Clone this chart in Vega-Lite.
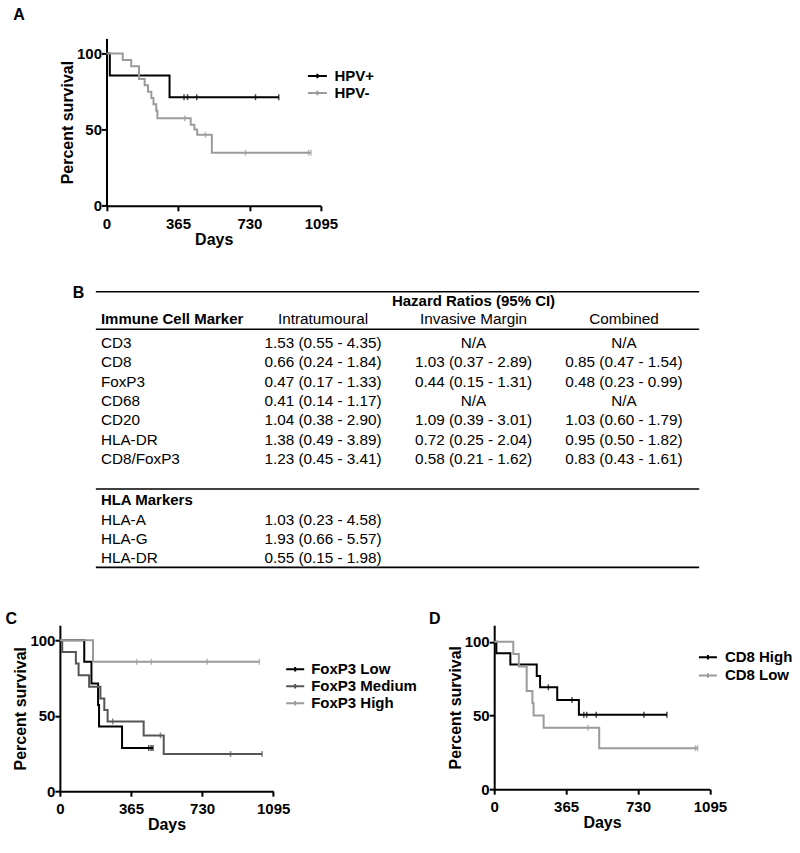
{
  "$schema": "https://vega.github.io/schema/vega-lite/v6.json",
  "padding": {"left": 4.9, "top": 6.4, "right": 5, "bottom": 5},
  "autosize": {"type": "pad"},
  "background": "white",
  "config": {
    "view": {"stroke": null},
    "font": "Liberation Sans",
    "axis": {"grid": false, "domainColor": "#000", "domainWidth": 2, "tickColor": "#000", "tickWidth": 2, "tickSize": 5, "labelFont": "Liberation Sans", "labelFontSize": 15, "labelFontWeight": "bold", "labelColor": "#000", "labelFlush": false, "labelOverlap": false, "format": "d", "titleFont": "Liberation Sans", "titleFontSize": 16, "titleFontWeight": "bold", "titleColor": "#000"},
    "axisX": {"labelPadding": 5.6, "titlePadding": 0},
    "axisY": {"labelPadding": 0, "titlePadding": 1},
    "legend": {"orient": "none", "symbolStrokeWidth": 2, "symbolSize": 225, "labelFont": "Liberation Sans", "labelFontSize": 15, "labelFontWeight": "bold", "labelColor": "#000", "padding": 0},
    "title": {"font": "Liberation Sans", "fontSize": 16, "fontWeight": "bold", "anchor": "start", "frame": "group", "offset": 0, "baseline": "alphabetic", "color": "#000"},
    "text": {"font": "Liberation Sans", "color": "#000"}
  },
  "datasets": {
    "kmA": [
      {"g": "HPV+", "t": 0, "s": 100}, {"g": "HPV+", "t": 17, "s": 85.7}, {"g": "HPV+", "t": 322, "s": 71.4}, {"g": "HPV+", "t": 880, "s": 71.4},
      {"g": "HPV-", "t": 0, "s": 100}, {"g": "HPV-", "t": 83, "s": 95.8}, {"g": "HPV-", "t": 126, "s": 91.7}, {"g": "HPV-", "t": 166, "s": 83.3}, {"g": "HPV-", "t": 195, "s": 79.2}, {"g": "HPV-", "t": 212, "s": 75.0}, {"g": "HPV-", "t": 229, "s": 70.8}, {"g": "HPV-", "t": 240, "s": 66.7}, {"g": "HPV-", "t": 254, "s": 62.5}, {"g": "HPV-", "t": 260, "s": 57.5}, {"g": "HPV-", "t": 430, "s": 53.3}, {"g": "HPV-", "t": 449, "s": 50.2}, {"g": "HPV-", "t": 463, "s": 46.7}, {"g": "HPV-", "t": 538, "s": 34.9}, {"g": "HPV-", "t": 1044, "s": 34.9}
    ],
    "censA": [
      {"g": "HPV+", "t": 396, "s": 71.4}, {"g": "HPV+", "t": 414, "s": 71.4}, {"g": "HPV+", "t": 461, "s": 71.4}, {"g": "HPV+", "t": 761, "s": 71.4}, {"g": "HPV+", "t": 880, "s": 71.4},
      {"g": "HPV-", "t": 400, "s": 57.5}, {"g": "HPV-", "t": 505, "s": 46.7}, {"g": "HPV-", "t": 710, "s": 34.9}, {"g": "HPV-", "t": 1032, "s": 34.9}, {"g": "HPV-", "t": 1044, "s": 34.9}
    ],
    "kmC": [
      {"g": "FoxP3 Low", "t": 0, "s": 100}, {"g": "FoxP3 Low", "t": 125, "s": 85.7}, {"g": "FoxP3 Low", "t": 162, "s": 71.4}, {"g": "FoxP3 Low", "t": 196, "s": 57.1}, {"g": "FoxP3 Low", "t": 201, "s": 42.9}, {"g": "FoxP3 Low", "t": 319, "s": 28.6}, {"g": "FoxP3 Low", "t": 478, "s": 28.6},
      {"g": "FoxP3 Medium", "t": 0, "s": 100}, {"g": "FoxP3 Medium", "t": 12, "s": 92.3}, {"g": "FoxP3 Medium", "t": 82, "s": 84.6}, {"g": "FoxP3 Medium", "t": 96, "s": 76.9}, {"g": "FoxP3 Medium", "t": 150, "s": 69.2}, {"g": "FoxP3 Medium", "t": 208, "s": 61.5}, {"g": "FoxP3 Medium", "t": 228, "s": 53.8}, {"g": "FoxP3 Medium", "t": 245, "s": 46.2}, {"g": "FoxP3 Medium", "t": 430, "s": 36.9}, {"g": "FoxP3 Medium", "t": 533, "s": 24.6}, {"g": "FoxP3 Medium", "t": 1038, "s": 24.6},
      {"g": "FoxP3 High", "t": 0, "s": 100}, {"g": "FoxP3 High", "t": 170, "s": 85.7}, {"g": "FoxP3 High", "t": 1024, "s": 85.7}
    ],
    "censC": [
      {"g": "FoxP3 Low", "t": 456, "s": 28.6}, {"g": "FoxP3 Low", "t": 468, "s": 28.6}, {"g": "FoxP3 Low", "t": 478, "s": 28.6},
      {"g": "FoxP3 Medium", "t": 271, "s": 46.2}, {"g": "FoxP3 Medium", "t": 516, "s": 36.9}, {"g": "FoxP3 Medium", "t": 876, "s": 24.6}, {"g": "FoxP3 Medium", "t": 1038, "s": 24.6},
      {"g": "FoxP3 High", "t": 394, "s": 85.7}, {"g": "FoxP3 High", "t": 469, "s": 85.7}, {"g": "FoxP3 High", "t": 756, "s": 85.7}, {"g": "FoxP3 High", "t": 1024, "s": 85.7}
    ],
    "kmD": [
      {"g": "CD8 High", "t": 0, "s": 100}, {"g": "CD8 High", "t": 11, "s": 92.3}, {"g": "CD8 High", "t": 82, "s": 84.6}, {"g": "CD8 High", "t": 216, "s": 76.9}, {"g": "CD8 High", "t": 233, "s": 69.2}, {"g": "CD8 High", "t": 320, "s": 60.6}, {"g": "CD8 High", "t": 430, "s": 50.5}, {"g": "CD8 High", "t": 877, "s": 50.5},
      {"g": "CD8 Low", "t": 0, "s": 100}, {"g": "CD8 Low", "t": 97, "s": 91.7}, {"g": "CD8 Low", "t": 125, "s": 83.3}, {"g": "CD8 Low", "t": 165, "s": 66.7}, {"g": "CD8 Low", "t": 194, "s": 58.3}, {"g": "CD8 Low", "t": 200, "s": 50.0}, {"g": "CD8 Low", "t": 251, "s": 41.7}, {"g": "CD8 Low", "t": 533, "s": 27.8}, {"g": "CD8 Low", "t": 1033, "s": 27.8}
    ],
    "censD": [
      {"g": "CD8 High", "t": 275, "s": 69.2}, {"g": "CD8 High", "t": 395, "s": 60.6}, {"g": "CD8 High", "t": 455, "s": 50.5}, {"g": "CD8 High", "t": 470, "s": 50.5}, {"g": "CD8 High", "t": 518, "s": 50.5}, {"g": "CD8 High", "t": 760, "s": 50.5}, {"g": "CD8 High", "t": 877, "s": 50.5},
      {"g": "CD8 Low", "t": 476, "s": 41.7}, {"g": "CD8 Low", "t": 1022, "s": 27.8}, {"g": "CD8 Low", "t": 1033, "s": 27.8}
    ],
    "tbl": [
      {"r": -1.18, "c": 2, "txt": "Hazard Ratios (95% CI)", "role": "title"},
      {"r": -0.22, "c": 0, "txt": "Immune Cell Marker", "role": "section"},
      {"r": -0.22, "c": 1, "txt": "Intratumoural", "role": "value"},
      {"r": -0.22, "c": 2, "txt": "Invasive Margin", "role": "value"},
      {"r": -0.22, "c": 3, "txt": "Combined", "role": "value"},
      {"r": 1, "c": 0, "txt": "CD3", "role": "label"},
      {"r": 1, "c": 1, "txt": "1.53 (0.55 - 4.35)", "role": "value"},
      {"r": 1, "c": 2, "txt": "N/A", "role": "value"},
      {"r": 1, "c": 3, "txt": "N/A", "role": "value"},
      {"r": 2, "c": 0, "txt": "CD8", "role": "label"},
      {"r": 2, "c": 1, "txt": "0.66 (0.24 - 1.84)", "role": "value"},
      {"r": 2, "c": 2, "txt": "1.03 (0.37 - 2.89)", "role": "value"},
      {"r": 2, "c": 3, "txt": "0.85 (0.47 - 1.54)", "role": "value"},
      {"r": 3, "c": 0, "txt": "FoxP3", "role": "label"},
      {"r": 3, "c": 1, "txt": "0.47 (0.17 - 1.33)", "role": "value"},
      {"r": 3, "c": 2, "txt": "0.44 (0.15 - 1.31)", "role": "value"},
      {"r": 3, "c": 3, "txt": "0.48 (0.23 - 0.99)", "role": "value"},
      {"r": 4, "c": 0, "txt": "CD68", "role": "label"},
      {"r": 4, "c": 1, "txt": "0.41 (0.14 - 1.17)", "role": "value"},
      {"r": 4, "c": 2, "txt": "N/A", "role": "value"},
      {"r": 4, "c": 3, "txt": "N/A", "role": "value"},
      {"r": 5, "c": 0, "txt": "CD20", "role": "label"},
      {"r": 5, "c": 1, "txt": "1.04 (0.38 - 2.90)", "role": "value"},
      {"r": 5, "c": 2, "txt": "1.09 (0.39 - 3.01)", "role": "value"},
      {"r": 5, "c": 3, "txt": "1.03 (0.60 - 1.79)", "role": "value"},
      {"r": 6, "c": 0, "txt": "HLA-DR", "role": "label"},
      {"r": 6, "c": 1, "txt": "1.38 (0.49 - 3.89)", "role": "value"},
      {"r": 6, "c": 2, "txt": "0.72 (0.25 - 2.04)", "role": "value"},
      {"r": 6, "c": 3, "txt": "0.95 (0.50 - 1.82)", "role": "value"},
      {"r": 7, "c": 0, "txt": "CD8/FoxP3", "role": "label"},
      {"r": 7, "c": 1, "txt": "1.23 (0.45 - 3.41)", "role": "value"},
      {"r": 7, "c": 2, "txt": "0.58 (0.21 - 1.62)", "role": "value"},
      {"r": 7, "c": 3, "txt": "0.83 (0.43 - 1.61)", "role": "value"},
      {"r": 9.11, "c": 0, "txt": "HLA Markers", "role": "section"},
      {"r": 10.11, "c": 0, "txt": "HLA-A", "role": "label"},
      {"r": 10.11, "c": 1, "txt": "1.03 (0.23 - 4.58)", "role": "value"},
      {"r": 11.11, "c": 0, "txt": "HLA-G", "role": "label"},
      {"r": 11.11, "c": 1, "txt": "1.93 (0.66 - 5.57)", "role": "value"},
      {"r": 12.11, "c": 0, "txt": "HLA-DR", "role": "label"},
      {"r": 12.11, "c": 1, "txt": "0.55 (0.15 - 1.98)", "role": "value"}
    ],
    "tblRules": [
      {"r": -1.63, "w": "thin"},
      {"r": 0.3, "w": "thick"},
      {"r": 8.54, "w": "mid"},
      {"r": 12.58, "w": "bottom"}
    ]
  },
  "bounds": "flush",
  "spacing": 39.4,
  "resolve": {"scale": {"x": "independent", "y": "independent", "color": "independent"}, "legend": {"color": "independent"}},
  "vconcat": [
    {
      "width": 261, "height": 167.4,
      "title": {"text": "A", "dx": -46.7, "dy": -11.3},
      "layer": [
        {
          "data": {"name": "kmA"},
          "mark": {"type": "line", "interpolate": "step-after", "strokeWidth": 2},
          "encoding": {
            "x": {"field": "t", "type": "quantitative", "scale": {"domain": [0, 1095], "range": [46.6, 261], "nice": false}, "axis": {"values": [0, 365, 730, 1095], "title": "Days"}},
            "y": {"field": "s", "type": "quantitative", "scale": {"domain": [0, 110], "nice": false}, "axis": {"values": [0, 50, 100], "title": "Percent survival", "offset": -46.6}},
            "color": {"field": "g", "type": "nominal", "scale": {"domain": ["HPV+", "HPV-"], "range": ["#000000", "#9b9b9b"]}, "legend": {"title": null, "symbolType": "M-1.267,0H1.267M0,-0.3V0.3", "legendX": 249, "legendY": 29, "labelOffset": 8.5, "rowPadding": -0.4}}
          }
        },
        {
          "data": {"name": "censA"},
          "mark": {"type": "tick", "orient": "vertical", "size": 6, "thickness": 1.5},
          "encoding": {
            "x": {"field": "t", "type": "quantitative"},
            "y": {"field": "s", "type": "quantitative"},
            "color": {"field": "g", "type": "nominal", "legend": null}
          }
        }
      ]
    },
    {
      "width": 639.3, "height": 339.5,
      "title": {"text": "B", "dx": 12.8, "dy": 59.4},
      "layer": [
        {
          "data": {"name": "tblRules"},
          "mark": {"type": "rule", "color": "#000"},
          "encoding": {
            "x": {"datum": -0.51, "type": "quantitative", "scale": {"domain": [-0.749, 3.5], "nice": false, "zero": false}, "axis": null},
            "x2": {"datum": 3.5},
            "y": {"field": "r", "type": "quantitative", "scale": {"domain": [-4, 13.5], "reverse": true, "nice": false, "zero": false}, "axis": null},
            "strokeWidth": {"field": "w", "type": "ordinal", "scale": {"domain": ["thin", "mid", "thick", "bottom"], "range": [1.3, 1.7, 2.5, 2.8]}, "legend": null}
          }
        },
        {
          "data": {"name": "tbl"},
          "transform": [{"filter": "datum.role === 'label'"}],
          "mark": {"type": "text", "align": "left", "dx": -71.7, "fontSize": 15.3},
          "encoding": {
            "x": {"field": "c", "type": "quantitative"},
            "y": {"field": "r", "type": "quantitative"},
            "text": {"field": "txt"}
          }
        },
        {
          "data": {"name": "tbl"},
          "transform": [{"filter": "datum.role === 'section'"}],
          "mark": {"type": "text", "align": "left", "dx": -71.7, "fontSize": 15, "fontWeight": "bold"},
          "encoding": {
            "x": {"field": "c", "type": "quantitative"},
            "y": {"field": "r", "type": "quantitative"},
            "text": {"field": "txt"}
          }
        },
        {
          "data": {"name": "tbl"},
          "transform": [{"filter": "datum.role === 'value'"}],
          "mark": {"type": "text", "align": "center", "fontSize": 15.3},
          "encoding": {
            "x": {"field": "c", "type": "quantitative"},
            "y": {"field": "r", "type": "quantitative"},
            "text": {"field": "txt"}
          }
        },
        {
          "data": {"name": "tbl"},
          "transform": [{"filter": "datum.role === 'title'"}],
          "mark": {"type": "text", "align": "center", "fontSize": 15, "fontWeight": "bold"},
          "encoding": {
            "x": {"field": "c", "type": "quantitative"},
            "y": {"field": "r", "type": "quantitative"},
            "text": {"field": "txt"}
          }
        }
      ]
    },
    {
      "bounds": "flush",
      "spacing": 220.3,
      "resolve": {"scale": {"x": "independent", "y": "independent", "color": "independent"}, "legend": {"color": "independent"}},
      "hconcat": [
        {
          "width": 213.3, "height": 166,
          "title": {"text": "C", "dx": -54.5, "dy": 5.7},
          "layer": [
            {
              "data": {"name": "kmC"},
              "mark": {"type": "line", "interpolate": "step-after", "strokeWidth": 2},
              "encoding": {
                "x": {"field": "t", "type": "quantitative", "scale": {"domain": [0, 1095], "nice": false}, "axis": {"values": [0, 365, 730, 1095], "title": "Days"}},
                "y": {"field": "s", "type": "quantitative", "scale": {"domain": [0, 110], "nice": false}, "axis": {"values": [0, 50, 100], "title": "Percent survival"}},
                "color": {"field": "g", "type": "nominal", "scale": {"domain": ["FoxP3 Low", "FoxP3 Medium", "FoxP3 High"], "range": ["#000000", "#555555", "#9b9b9b"]}, "legend": {"title": null, "symbolType": "M-1.2,0H1.2M0,-0.3V0.3", "legendX": 226.8, "legendY": 35.5, "labelOffset": 7.5, "rowPadding": -1.7}}
              }
            },
            {
              "data": {"name": "censC"},
              "mark": {"type": "tick", "orient": "vertical", "size": 6, "thickness": 1.5},
              "encoding": {
                "x": {"field": "t", "type": "quantitative"},
                "y": {"field": "s", "type": "quantitative"},
                "color": {"field": "g", "type": "nominal", "legend": null}
              }
            }
          ]
        },
        {
          "width": 215.7, "height": 164,
          "title": {"text": "D", "dx": -65.3, "dy": 6},
          "layer": [
            {
              "data": {"name": "kmD"},
              "mark": {"type": "line", "interpolate": "step-after", "strokeWidth": 2},
              "encoding": {
                "x": {"field": "t", "type": "quantitative", "scale": {"domain": [0, 1095], "nice": false}, "axis": {"values": [0, 365, 730, 1095], "title": "Days"}},
                "y": {"field": "s", "type": "quantitative", "scale": {"domain": [0, 111.3], "nice": false}, "axis": {"values": [0, 50, 100], "title": "Percent survival"}},
                "color": {"field": "g", "type": "nominal", "scale": {"domain": ["CD8 High", "CD8 Low"], "range": ["#000000", "#9b9b9b"]}, "legend": {"title": null, "symbolType": "M-1.2,0H1.2M0,-0.3V0.3", "legendX": 205.2, "legendY": 23.5, "labelOffset": 8.5, "rowPadding": 1.3}}
              }
            },
            {
              "data": {"name": "censD"},
              "mark": {"type": "tick", "orient": "vertical", "size": 6, "thickness": 1.5},
              "encoding": {
                "x": {"field": "t", "type": "quantitative"},
                "y": {"field": "s", "type": "quantitative"},
                "color": {"field": "g", "type": "nominal", "legend": null}
              }
            }
          ]
        }
      ]
    }
  ]
}
